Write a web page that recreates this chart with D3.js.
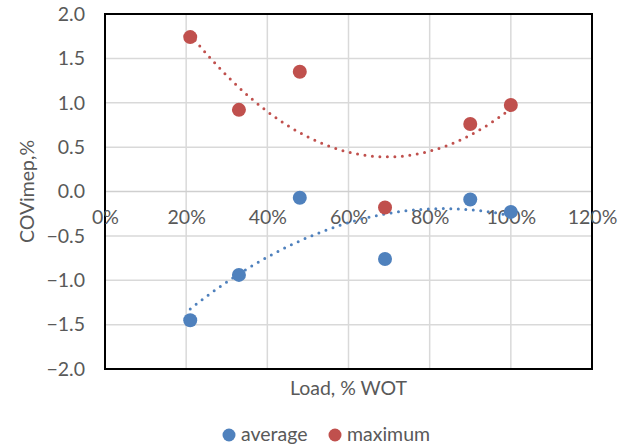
<!DOCTYPE html>
<html>
<head>
<meta charset="utf-8">
<script src="https://cdn.jsdelivr.net/npm/d3@7/dist/d3.min.js"></script>
<style>
  html, body { margin: 0; padding: 0; background: #fff; }
  svg { display: block; }
  text { font-family: Lato, "Open Sans", "Liberation Sans", sans-serif; fill: #595959; }
</style>
</head>
<body>
<svg id="chart" width="627" height="448"></svg>
<script>
// Engine load (fraction of wide-open throttle)
const load = [0.21, 0.33, 0.48, 0.69, 0.90, 1.00];
// COV of IMEP, %
const averageCov = [-1.45, -0.94, -0.07, -0.76, -0.09, -0.23];
const maximumCov = [1.74, 0.92, 1.35, -0.18, 0.76, 0.975];

const xTicks = [0, 0.2, 0.4, 0.6, 0.8, 1.0, 1.2];
const yTicks = [-2, -1.5, -1, -0.5, 0, 0.5, 1, 1.5, 2];

const seriesNames = ["average", "maximum"];
const seriesColors = ["#4f81bd", "#c0504d"];

const svg = d3.select("#chart");
const plot = { left: 105, right: 592, top: 14, bottom: 369 };
const fontSize = "19.5px";

const x = d3.scaleLinear().domain([0, 1.2]).range([plot.left, plot.right]);
const y = d3.scaleLinear().domain([-2, 2]).range([plot.bottom, plot.top]);

// gridlines
const grid = svg.append("g");
grid.selectAll("line.v").data(xTicks.slice(1, -1)).join("line")
  .attr("x1", d => x(d)).attr("x2", d => x(d))
  .attr("y1", plot.top).attr("y2", plot.bottom)
  .attr("stroke", "#d9d9d9").attr("stroke-width", 1.5);
grid.selectAll("line.h").data(yTicks.slice(1, -1)).join("line")
  .attr("x1", plot.left).attr("x2", plot.right)
  .attr("y1", d => y(d)).attr("y2", d => y(d))
  .attr("stroke", d => d === 0 ? "#cfcfcf" : "#d9d9d9").attr("stroke-width", 1.5);

// plot frame
svg.append("rect")
  .attr("x", plot.left).attr("y", plot.top)
  .attr("width", plot.right - plot.left).attr("height", plot.bottom - plot.top)
  .attr("fill", "none").attr("stroke", "#000").attr("stroke-width", 2);

// y axis labels
const yAxis = d3.axisLeft(y).tickValues(yTicks).tickFormat(d3.format(".1f")).tickSize(0).tickPadding(20);
const gy = svg.append("g").attr("transform", `translate(${plot.left},0)`).call(yAxis);
gy.select(".domain").remove();
gy.selectAll("text").style("font-size", fontSize).attr("fill", "#595959")
  .style("font-family", "Lato, 'Open Sans', sans-serif");

// x axis labels, along the zero line
const xAxis = d3.axisBottom(x).tickValues(xTicks).tickFormat(d3.format(".0%")).tickSize(0).tickPadding(19);
const gx = svg.append("g").attr("transform", `translate(0,${y(0)})`).call(xAxis);
gx.select(".domain").remove();
gx.selectAll("text").style("font-size", fontSize).attr("fill", "#595959")
  .style("font-family", "Lato, 'Open Sans', sans-serif");

// axis titles
svg.append("text")
  .attr("x", (plot.left + plot.right) / 2).attr("y", 395)
  .attr("text-anchor", "middle").style("font-size", fontSize)
  .text("Load, % WOT");
svg.append("text")
  .attr("transform", `translate(34,${(plot.top + plot.bottom) / 2}) rotate(-90)`)
  .attr("text-anchor", "middle").style("font-size", fontSize)
  .text("COVimep,%");

// second-order least-squares trendline
function quadFit(xs, ys) {
  const n = xs.length;
  let s = [0, 0, 0, 0, 0], t = [0, 0, 0];
  for (let i = 0; i < n; i++) {
    const xi = xs[i], yi = ys[i];
    for (let k = 0; k < 5; k++) s[k] += Math.pow(xi, k);
    for (let k = 0; k < 3; k++) t[k] += yi * Math.pow(xi, k);
  }
  const A = [[s[0], s[1], s[2], t[0]], [s[1], s[2], s[3], t[1]], [s[2], s[3], s[4], t[2]]];
  for (let c = 0; c < 3; c++) {
    for (let r = c + 1; r < 3; r++) {
      const f = A[r][c] / A[c][c];
      for (let k = c; k < 4; k++) A[r][k] -= f * A[c][k];
    }
  }
  const b = [0, 0, 0];
  for (let r = 2; r >= 0; r--) {
    let v = A[r][3];
    for (let k = r + 1; k < 3; k++) v -= A[r][k] * b[k];
    b[r] = v / A[r][r];
  }
  return xv => b[0] + b[1] * xv + b[2] * xv * xv;
}

const seriesValues = [averageCov, maximumCov];
const line = d3.line().x(d => x(d[0])).y(d => y(d[1]));
const xMin = d3.min(load), xMax = d3.max(load);

seriesValues.forEach((vals, i) => {
  const f = quadFit(load, vals);
  const pts = d3.range(0, 101).map(k => {
    const xv = xMin + (xMax - xMin) * k / 100;
    return [xv, f(xv)];
  });
  svg.append("path").datum(pts)
    .attr("d", line).attr("fill", "none")
    .attr("stroke", seriesColors[i]).attr("stroke-width", 3)
    .attr("stroke-linecap", "round").attr("stroke-dasharray", "0 7.5");
});

seriesValues.forEach((vals, i) => {
  svg.append("g").selectAll("circle").data(vals.map((v, j) => [load[j], v])).join("circle")
    .attr("cx", d => x(d[0])).attr("cy", d => y(d[1])).attr("r", 7)
    .attr("fill", seriesColors[i]);
});

// legend
const legend = svg.append("g");
const legendX = [229, 335];
seriesNames.forEach((name, i) => {
  legend.append("circle").attr("cx", legendX[i]).attr("cy", 435).attr("r", 6.5).attr("fill", seriesColors[i]);
  legend.append("text").attr("x", legendX[i] + 12).attr("y", 441)
    .style("font-size", fontSize).text(name);
});
</script>
</body>
</html>
